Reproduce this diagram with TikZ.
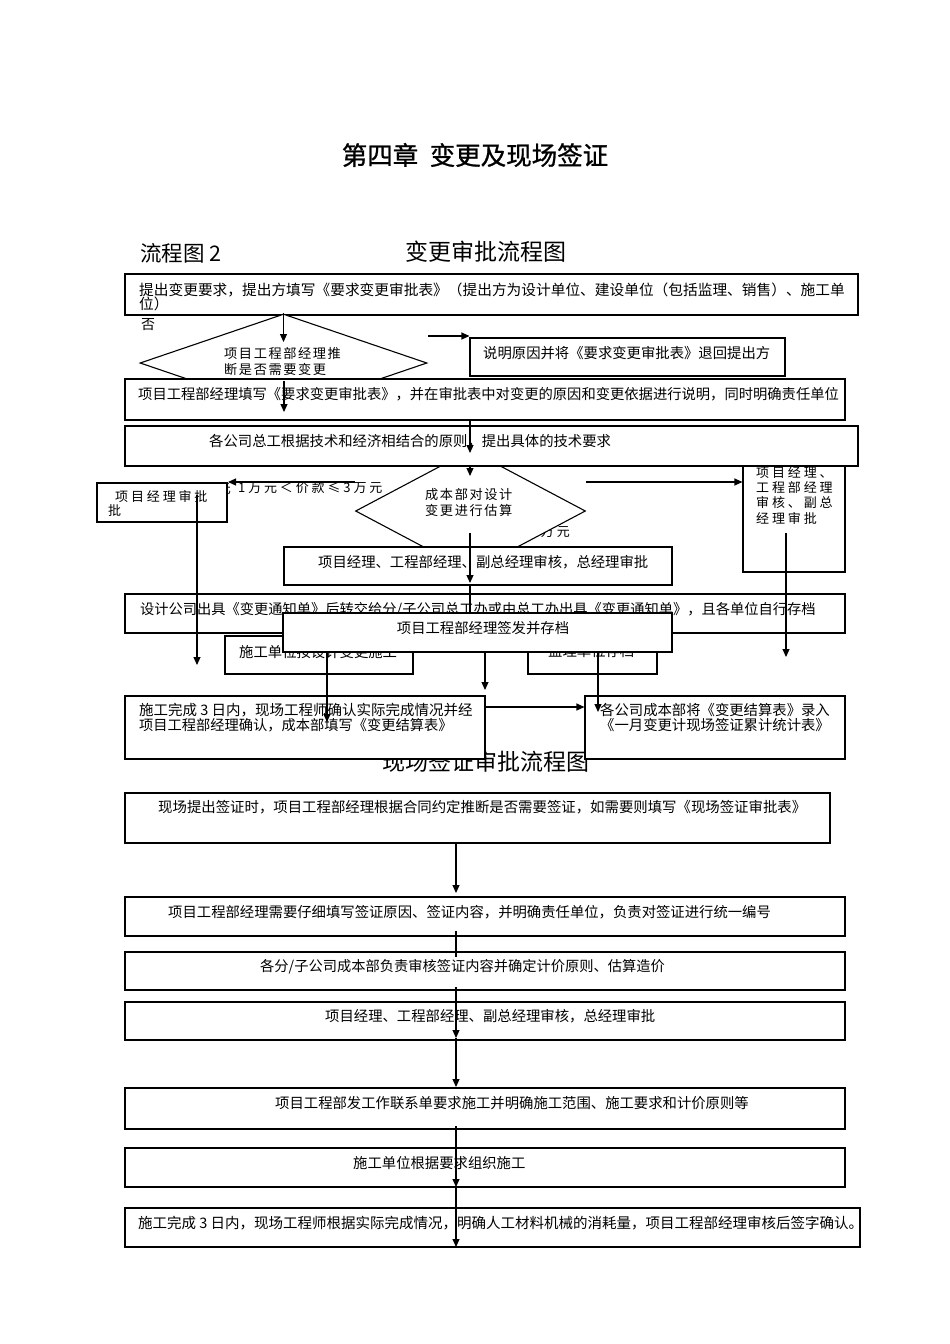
\documentclass[tikz,border=0pt]{standalone}
\usepackage{fontspec}
\setmainfont{Noto Sans CJK SC}
\newfontfamily\lsA[LetterSpace=12]{Noto Sans CJK SC}
\newfontfamily\lsB[LetterSpace=22]{Noto Sans CJK SC}
\newfontfamily\ttlfont[FakeBold=1]{Noto Sans CJK SC}
\usetikzlibrary{shapes.geometric,arrows.meta,fit}
\newcommand\fbody{\fontsize{14.35}{16}\selectfont}
\newcommand\fhead{\fontsize{23}{26}\selectfont}
\begin{document}
\begin{tikzpicture}[x=1pt,y=-1pt,
  box/.style={draw,line width=1.1pt,fill=white,inner sep=0pt},
  txt/.style={inner sep=0pt,anchor=west,font=\fbody},
  dtxt/.style={inner sep=0pt,anchor=west,font=\lsA\fontsize{13.2}{15}\selectfont},
  stxt/.style={inner sep=0pt,anchor=west,font=\lsB\fontsize{13}{15}\selectfont},
  arr/.style={line width=1.1pt,-{Triangle[length=8pt,width=7pt]}},
  ln/.style={line width=1.1pt},
  dia/.style={diamond,draw,line width=1.1pt,fill=white,inner sep=0pt}]
\useasboundingbox (0,0) rectangle (950,1344);
\fill[white] (0,0) rectangle (950,1344);

% titles
\node[inner sep=0pt,font=\ttlfont\fontsize{25.5}{29}\selectfont] (title) at (475,155) {第四章\ \ 变更及现场签证};
\node[inner sep=0pt,anchor=west,font=\fontsize{21.5}{24}\selectfont] (h1) at (140,253) {流程图 2};
\node[inner sep=0pt,font=\fhead] (h2) at (486,252) {变更审批流程图};

% box 1
\node[box,fit={(125,274)(858,315)}] (b1) {};
\node[txt,font=\fontsize{14.7}{16}\selectfont] (t1a) at (139,290) {提出变更要求，提出方填写《要求变更审批表》（提出方为设计单位、建设单位（包括监理、销售）、施工单};
\node[txt,font=\fontsize{14.7}{16}\selectfont] (t1b) at (139,304) {位）};
\node[txt,font=\fontsize{14}{16}\selectfont] (fou) at (141,325) {否};

% diamond 1
\node[dia,minimum width=287pt,minimum height=98pt] (d1) at (283.5,363) {};
\node[dtxt] (d1a) at (224,353) {项目工程部经理推};
\node[dtxt] (d1b) at (224,369) {断是否需要变更};
\coordinate (a1e) at (283.5,342);
\draw[arr] (d1.north) -- (a1e);

% box 2
\node[box,fit={(470,338)(785,376)}] (b2) {};
\node[txt] (t2) at (483,353) {说明原因并将《要求变更审批表》退回提出方};
\coordinate (a2s) at (428,336);
\draw[arr] (a2s) -- (a2s -| b2.west);

% box 3
\node[box,fit={(125,379)(845,420)}] (b3) {};
\node[txt,font=\fontsize{14.3}{16}\selectfont] (t3) at (138,394) {项目工程部经理填写《要求变更审批表》，并在审批表中对变更的原因和变更依据进行说明，同时明确责任单位};
\coordinate (a3s) at (284,381);
\coordinate (a3e) at (284,412);
\draw[arr] (a3s) -- (a3e);

% labels behind
\node[stxt,anchor=east] (l1) at (231,489) {价款≤1万元};
\node[stxt] (l2) at (238,488) {1万元＜价款≤3万元};
\node[stxt,anchor=east] (l3) at (570,532) {价款＞3万元};

% diamond 2
\node[dia,minimum width=230pt,minimum height=122pt] (d2) at (470.5,511) {};
\node[dtxt] (d2a) at (425,494) {成本部对设计};
\node[dtxt] (d2b) at (425,510) {变更进行估算};

% box 6 (right)
\node[box,fit={(743,462)(845,572)}] (b6) {};

% box 4
\node[box,fit={(125,426)(858,466)}] (b4) {};
\node[txt] (t4) at (209,441) {各公司总工根据技术和经济相结合的原则，提出具体的技术要求};
\node[stxt] (t6a) at (756,473) {项目经理、};
\node[stxt] (t6b) at (756,488) {工程部经理};
\node[stxt] (t6c) at (756,503) {审核、副总};
\node[stxt] (t6d) at (756,518) {经理审批};
\coordinate (a4s) at (470,421);
\coordinate (a4e) at (470,453);
\draw[arr] (a4s) -- (a4e);
\coordinate (a5e) at (470,476);
\draw[arr] (a4e |- b4.south) -- (a5e);

% box 5
\node[box,fit={(284,547)(672,585)}] (b5) {};
\node[txt] (t5) at (318,562) {项目经理、工程部经理、副总经理审核，总经理审批};
\coordinate (a9s) at (470,533);
\coordinate (a9e) at (470,583);
\draw[arr] (a9s) -- (a9e);

% left box
\node[box,fit={(97,483)(227,522)}] (bL) {};
\node[stxt] (tLa) at (115,497) {项目经理审批};
\node[stxt] (tLb) at (108,511) {批};

% side arrows
\coordinate (a6s) at (355,482);
\coordinate (a6e) at (228,482);
\draw[arr] (a6s) -- (a6e);
\coordinate (a7s) at (586,482);
\draw[arr] (a7s) -- (a7s -| b6.west);

% box 7
\node[box,fit={(125,594)(845,633)}] (b7) {};
\node[txt,font=\fontsize{14.25}{16}\selectfont] (t7) at (140,610) {设计公司出具《变更通知单》后转交给分/子公司总工办或由总工办出具《变更通知单》，且各单位自行存档};
\coordinate (a8s) at (197,495);
\coordinate (a8e) at (197,665);
\draw[arr] (a8s) -- (a8e);
\coordinate (a11s) at (786,533);
\coordinate (a11e) at (786,657);
\draw[arr] (a11s) -- (a11e);
\coordinate (l10e) at (470,613);
\draw[ln] (a9e |- b5.south) -- (l10e);

% boxes 9,10
\node[box,fit={(225,636)(413,674)}] (b9) {};
\node[txt] (t9) at (239,652) {施工单位按设计变更施工};
\node[box,fit={(528,636)(657,674)}] (b10) {};
\node[txt] (t10) at (548,651) {监理单位存档};

% box 8
\node[box,fit={(283,613)(672,652)}] (b8) {};
\node[inner sep=0pt,font=\fbody] (t8) at (483,628) {项目工程部经理签发并存档};

% heading 2
\node[inner sep=0pt,font=\fhead] (h3) at (486,762) {现场签证审批流程图};

% boxes 11,12
\node[box,fit={(125,696)(485,759)}] (b11) {};
\node[txt,font=\fontsize{14.5}{16}\selectfont] (t11a) at (139,710) {施工完成 3 日内，现场工程师确认实际完成情况并经};
\node[txt,font=\fontsize{14.25}{16}\selectfont] (t11b) at (139,725) {项目工程部经理确认，成本部填写《变更结算表》};
\node[box,fit={(585,696)(845,759)}] (b12) {};
\node[inner sep=0pt,font=\fbody] (t12a) at (715,710) {各公司成本部将《变更结算表》录入};
\node[inner sep=0pt,font=\fbody] (t12b) at (715,725) {《一月变更计现场签证累计统计表》};

\coordinate (a12s) at (327,652);
\coordinate (a12e) at (327,722);
\draw[arr] (a12s) -- (a12e);
\coordinate (a13s) at (598,652);
\coordinate (a13e) at (598,712);
\draw[arr] (a13s) -- (a13e);
\coordinate (a14s) at (485,652);
\coordinate (a14e) at (485,690);
\draw[arr] (a14s) -- (a14e);
\coordinate (a15s) at (485,707);
\draw[arr] (a15s) -- (a15s -| b12.west);

% second chart
\node[box,fit={(125,793)(830,843)}] (c1) {};
\node[txt,font=\fontsize{14.4}{16}\selectfont] (u1) at (158,807) {现场提出签证时，项目工程部经理根据合同约定推断是否需要签证，如需要则填写《现场签证审批表》};
\node[box,fit={(125,897)(845,936)}] (c2) {};
\node[txt] (u2) at (168,912) {项目工程部经理需要仔细填写签证原因、签证内容，并明确责任单位，负责对签证进行统一编号};
\node[box,fit={(125,952)(845,990)}] (c3) {};
\node[txt,font=\fontsize{14.25}{16}\selectfont] (u3) at (260,967) {各分/子公司成本部负责审核签证内容并确定计价原则、估算造价};
\node[box,fit={(125,1002)(845,1040)}] (c4) {};
\node[txt] (u4) at (325,1016) {项目经理、工程部经理、副总经理审核，总经理审批};
\node[box,fit={(125,1088)(845,1129)}] (c5) {};
\node[txt] (u5) at (275,1103) {项目工程部发工作联系单要求施工并明确施工范围、施工要求和计价原则等};
\node[box,fit={(125,1148)(845,1187)}] (c6) {};
\node[txt] (u6) at (353,1163) {施工单位根据要求组织施工};
\node[box,fit={(125,1208)(860,1247)}] (c7) {};
\node[txt,font=\fontsize{14.5}{16}\selectfont] (u7) at (138,1223) {施工完成 3 日内，现场工程师根据实际完成情况，明确人工材料机械的消耗量，项目工程部经理审核后签字确认。};

\coordinate (e1) at (456,893);
\draw[arr] (e1 |- c1.south) -- (e1);
\coordinate (e2s) at (456,931);
\coordinate (e2e) at (456,957);
\draw[ln] (e2s) -- (e2e);
\coordinate (e3s) at (456,987);
\coordinate (e3e) at (456,1038);
\coordinate (e4e) at (456,1087);
\draw[arr] (e3s) -- (e3e);
\draw[arr] (e3e) -- (e4e);
\coordinate (e5s) at (456,1126);
\coordinate (e5e) at (456,1187);
\coordinate (e6e) at (456,1247);
\draw[arr] (e5s) -- (e5e);
\draw[arr] (e5e) -- (e6e);
\end{tikzpicture}
\end{document}
